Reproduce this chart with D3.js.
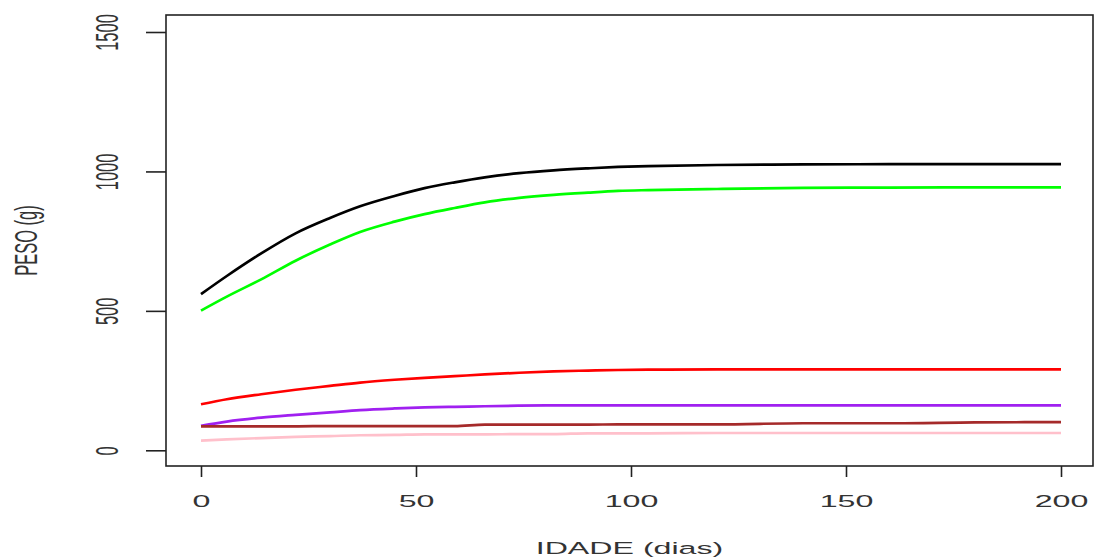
<!DOCTYPE html>
<html>
<head>
<meta charset="utf-8">
<script src="https://cdn.jsdelivr.net/npm/d3@7"></script>
<style>
  html, body { margin: 0; padding: 0; background: #fff; }
  svg { display: block; }
  text { font-family: "Liberation Sans", Arial, sans-serif; fill: #333; }
</style>
</head>
<body>
<div class="chart"></div>
<script>
"use strict";

const days = [0, 6, 14, 22, 30, 37, 45, 52, 59, 66, 74, 82, 90, 97, 104, 120, 140, 160, 180, 200];

const blackWeights  = [560, 625, 706, 778, 833, 875, 912, 940, 961, 979, 994, 1004, 1011, 1016, 1019, 1023, 1025, 1026, 1026, 1026];
const greenWeights  = [501, 551, 613, 680, 738, 783, 820, 847, 869, 889, 905, 916, 924, 930, 933, 937, 941, 942, 943, 943];
const redWeights    = [165, 183, 201, 217, 231, 243, 253, 260, 266, 272, 278, 283, 286, 288, 289, 290, 290, 290, 290, 290];
const purpleWeights = [88, 103, 117, 127, 136, 144, 150, 154, 156, 158, 160, 161, 161, 161, 161, 161, 161, 161, 161, 161];
const brownWeights  = [86, 86, 86, 86, 87, 87, 87, 87, 87, 92, 92, 92, 92, 93, 93, 93, 97, 97, 100, 101];
const pinkWeights   = [35, 39, 44, 48, 51, 54, 55, 57, 57, 57, 58, 58, 61, 61, 61, 62, 62, 62, 62, 62];

const series = [
  { name: "black", color: "#000000", values: blackWeights },
  { name: "green", color: "#00ff00", values: greenWeights },
  { name: "red", color: "#ff0000", values: redWeights },
  { name: "purple", color: "#a020f0", values: purpleWeights },
  { name: "brown", color: "#a52a2a", values: brownWeights },
  { name: "pink", color: "#ffc0cb", values: pinkWeights }
];

const xTicks = [0, 50, 100, 150, 200];
const yTicks = [0, 500, 1000, 1500];

const width = 1094;
const height = 560;
const stretch = 1.95; // the picture is stretched sideways

const box = { left: 166, right: 1093, top: 15, bottom: 466 };

const svg = d3.select(".chart")
  .append("svg")
    .attr("width", width)
    .attr("height", height);

const xScale = d3.scaleLinear()
  .domain([0, 200])
  .range([201, 1061]);

const yScale = d3.scaleLinear()
  .domain([0, 1500])
  .range([450.3, 32]);

// Lines
const lineGenerator = d3.line()
  .x(d => xScale(d.day))
  .y(d => yScale(d.weight))
  .curve(d3.curveMonotoneX);

svg.selectAll("path.curve")
  .data(series)
  .join("path")
    .attr("class", "curve")
    .attr("d", s => lineGenerator(days.map((day, i) => ({ day, weight: s.values[i] }))))
    .attr("fill", "none")
    .attr("stroke", s => s.color)
    .attr("stroke-width", 2.7)
    .attr("stroke-linejoin", "round");

// Axes
const xAxis = d3.axisBottom(xScale)
  .tickValues(xTicks)
  .tickFormat(d3.format("d"))
  .tickSize(11)
  .tickSizeOuter(0);

const yAxis = d3.axisLeft(yScale)
  .tickValues(yTicks)
  .tickFormat(d3.format("d"))
  .tickSize(20)
  .tickSizeOuter(0);

const gx = svg.append("g")
  .attr("class", "axis-x")
  .attr("transform", `translate(0, ${box.bottom})`)
  .call(xAxis);

const gy = svg.append("g")
  .attr("class", "axis-y")
  .attr("transform", `translate(${box.left}, 0)`)
  .call(yAxis);

svg.selectAll(".domain").remove();
svg.selectAll(".tick line")
  .attr("stroke", "#222")
  .attr("stroke-width", 1.6);

gx.selectAll(".tick text")
  .attr("y", 0)
  .attr("dy", "0.36em")
  .attr("transform", `translate(0, 35) scale(${stretch}, 1)`)
  .attr("font-size", 16.5)
  .attr("fill", "#333");

gy.selectAll(".tick text")
  .attr("x", 0)
  .attr("dy", "0.36em")
  .attr("text-anchor", "middle")
  .attr("transform", `translate(-60, 0) scale(${stretch}, 1) rotate(-90)`)
  .attr("font-size", 16.5)
  .attr("fill", "#333");

// Frame
svg.append("rect")
  .attr("x", box.left)
  .attr("y", box.top)
  .attr("width", box.right - box.left)
  .attr("height", box.bottom - box.top)
  .attr("fill", "none")
  .attr("stroke", "#222")
  .attr("stroke-width", 1.6);

// Titles
svg.append("text")
  .attr("text-anchor", "middle")
  .attr("dy", "0.36em")
  .attr("transform", `translate(${(box.left + box.right) / 2}, 548) scale(${stretch}, 1)`)
  .attr("font-size", 16.5)
  .text("IDADE (dias)");

svg.append("text")
  .attr("text-anchor", "middle")
  .attr("dy", "0.36em")
  .attr("transform", `translate(25, ${(box.top + box.bottom) / 2}) scale(${stretch}, 1) rotate(-90)`)
  .attr("font-size", 16.5)
  .text("PESO (g)");
</script>
</body>
</html>
